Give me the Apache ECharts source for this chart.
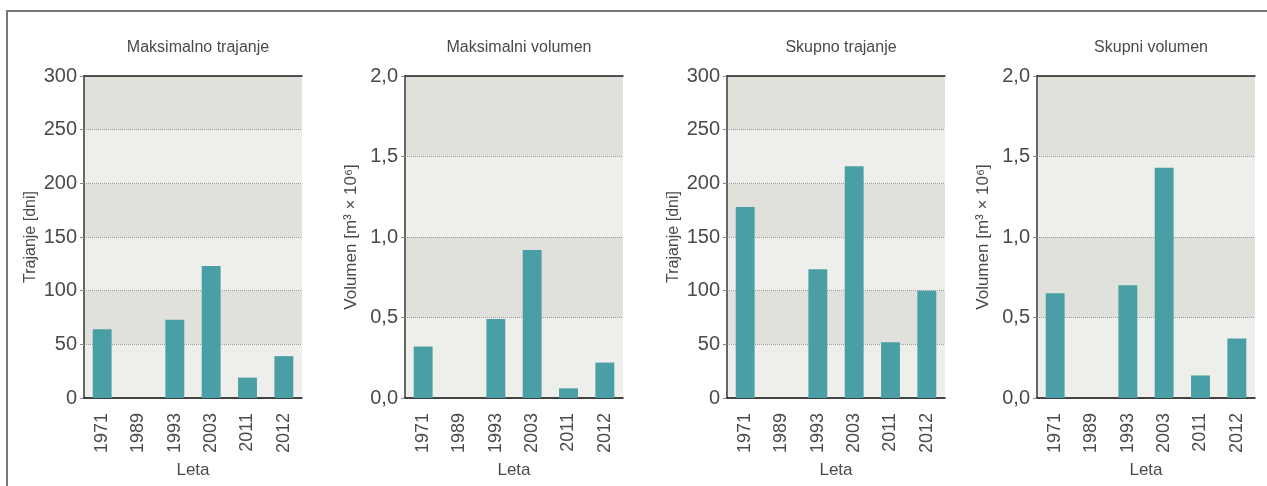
<!DOCTYPE html>
<html>
<head>
<meta charset="utf-8">
<script src="https://cdn.jsdelivr.net/npm/echarts@6/dist/echarts.min.js"></script>
<style>
  html, body { margin: 0; padding: 0; background: #fff; }
  #chart { width: 1267px; height: 486px; }
</style>
</head>
<body>
<div id="chart"></div>
<script>
// podatki
const leta = ['1971', '1989', '1993', '2003', '2011', '2012'];
const maksTrajanje = [64, 0, 73, 123, 19, 39];
const maksVolumen = [0.32, 0, 0.49, 0.92, 0.06, 0.22];
const skupnoTrajanje = [178, 0, 120, 216, 52, 100];
const skupniVolumen = [0.65, 0, 0.70, 1.43, 0.14, 0.37];
const naslovi = ['Maksimalno trajanje', 'Maksimalni volumen', 'Skupno trajanje', 'Skupni volumen'];

const font = '"Liberation Sans", sans-serif';
const textCol = '#4a4a4a';
const gridLefts = [84, 405, 727, 1037];
const gridW = 218;

const panels = [
  { data: maksTrajanje, max: 300, interval: 50, name: 'Trajanje [dni]', vol: false },
  { data: maksVolumen, max: 2, interval: 0.5, name: 'Volumen [m³ × 10⁶]', vol: true },
  { data: skupnoTrajanje, max: 300, interval: 50, name: 'Trajanje [dni]', vol: false },
  { data: skupniVolumen, max: 2, interval: 0.5, name: 'Volumen [m³ × 10⁶]', vol: true }
];

const grid = [], xAxis = [], yAxis = [], series = [], title = [];
panels.forEach((p, i) => {
  grid.push({ left: gridLefts[i], width: gridW, top: 76, bottom: 88, outerBoundsMode: 'none' });
  title.push({
    text: naslovi[i], left: gridLefts[i] + gridW / 2, top: 35, textAlign: 'center',
    textStyle: { fontFamily: font, fontSize: 16, fontWeight: 'normal', color: textCol }
  });
  // spodnja os
  xAxis.push({
    type: 'category', gridIndex: i, data: leta,
    name: 'Leta', nameLocation: 'middle', nameGap: 64,
    nameTextStyle: { fontFamily: font, fontSize: 17, color: textCol },
    axisLine: { lineStyle: { color: '#111', width: 1.5 } },
    axisTick: { show: false },
    axisLabel: { rotate: 90, margin: 15, fontFamily: font, fontSize: 18, color: textCol }
  });
  // zgornja crta okvirja
  xAxis.push({
    type: 'category', gridIndex: i, data: leta, position: 'top',
    axisLine: { lineStyle: { color: '#222', width: 1.5 } },
    axisTick: { show: false }, axisLabel: { show: false }
  });
  yAxis.push({
    type: 'value', gridIndex: i, min: 0, max: p.max, interval: p.interval,
    name: p.name, nameLocation: 'middle', nameGap: 45,
    nameTextStyle: { fontFamily: font, fontSize: p.vol ? 17 : 16, color: textCol },
    axisLine: { show: true, lineStyle: { color: '#666', width: 2 } },
    axisTick: { show: true, length: 4, lineStyle: { color: '#888' } },
    axisLabel: {
      margin: 7, fontFamily: font, fontSize: 20, color: textCol,
      formatter: v => p.vol ? v.toFixed(1).replace('.', ',') : String(v)
    },
    splitLine: { show: true, lineStyle: { color: '#9a9a9a', type: 'dotted', width: 1 } },
    splitArea: { show: true, areaStyle: { color: ['#eeeeea', '#e1e1dc'] } }
  });
  series.push({
    type: 'bar', xAxisIndex: i * 2, yAxisIndex: i, data: p.data,
    barWidth: '52%', itemStyle: { color: '#4a9fa6' }, silent: true
  });
});

const chart = echarts.init(document.getElementById('chart'));
chart.setOption({
  animation: false,
  backgroundColor: '#fff',
  title, grid, xAxis, yAxis, series,
  graphic: [
    { type: 'line', shape: { x1: 7, y1: 11, x2: 1267, y2: 11 }, style: { stroke: '#777', lineWidth: 2 } },
    { type: 'line', shape: { x1: 7, y1: 10, x2: 7, y2: 486 }, style: { stroke: '#777', lineWidth: 2 } }
  ]
});
</script>
</body>
</html>
